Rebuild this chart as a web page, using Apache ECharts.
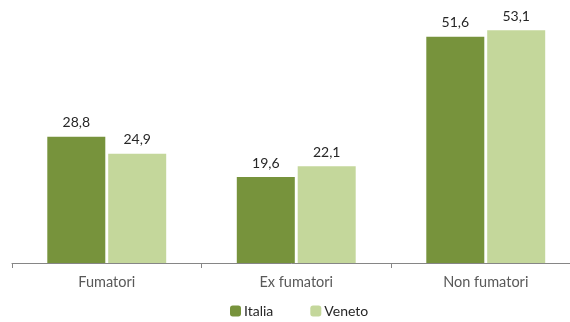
<!DOCTYPE html>
<html><head><meta charset="utf-8">
<script src="https://cdn.jsdelivr.net/npm/echarts@6/dist/echarts.min.js"></script>
<style>html,body{margin:0;padding:0;background:#fff}#c{width:570px;height:322px}</style>
</head><body><div id="c"></div>
<script>
var categories = ['Fumatori', 'Ex fumatori', 'Non fumatori'];
var italia = [28.8, 19.6, 51.6];
var veneto = [24.9, 22.1, 53.1];
var seriesNames = ['Italia', 'Veneto'];

var chart = echarts.init(document.getElementById('c'), null, {renderer: 'canvas'});
var fontFamily = 'Lato, "Open Sans", sans-serif';
var lbl = {show: true, position: 'top', distance: 7, color: '#262626', fontSize: 14, fontFamily: fontFamily,
  formatter: function (p) { return p.value.toFixed(1).replace('.', ','); }};
chart.setOption({
  animation: false,
  grid: {left: 12, top: 0, width: 568.5, height: 263, outerBoundsMode: 'none', containLabel: false},
  legend: {top: 304, left: 230, padding: 0, itemWidth: 11, itemHeight: 11, itemGap: 37,
    textStyle: {fontSize: 14, color: '#262626', fontFamily: fontFamily, padding: [0, 0, 0, -2]},
    data: seriesNames},
  xAxis: {type: 'category', data: categories,
    axisLine: {lineStyle: {color: '#868686'}},
    axisTick: {show: true, length: 5, lineStyle: {color: '#868686'}},
    axisLabel: {color: '#595959', fontSize: 14.5, margin: 12, fontFamily: fontFamily}},
  yAxis: {type: 'value', min: 0, max: 60, show: false, splitLine: {show: false}},
  series: [
    {name: seriesNames[0], type: 'bar', data: italia, barWidth: 58, barGap: '5%',
      itemStyle: {color: '#77933C'}, label: lbl},
    {name: seriesNames[1], type: 'bar', data: veneto, barWidth: 58, barGap: '5%',
      itemStyle: {color: '#C4D79B'}, label: lbl}
  ]
});
</script></body></html>
